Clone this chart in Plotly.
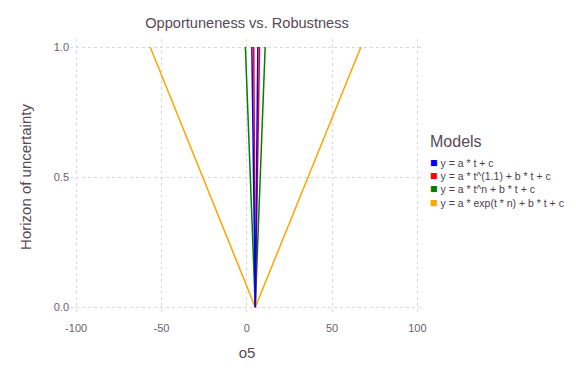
import plotly.graph_objects as go

# Data
models = ["y = a * t + c", "y = a * t^(1.1) + b * t + c",
          "y = a * t^n + b * t + c", "y = a * exp(t * n) + b * t + c"]
colors = ["#0000FF", "#FF0000", "#008000", "#FFA500"]
horizon = [1.0, 0.0, 1.0]
# x positions: robustness end (h=1), nominal (h=0), opportuneness end (h=1)
x_blue = [3.0, 5.0, 6.5]
x_red = [4.1, 5.0, 7.5]
x_green = [-0.8, 5.0, 10.8]
x_orange = [-56.6, 5.0, 66.9]
series = [x_blue, x_red, x_green, x_orange]

x_ticks = [-100, -50, 0, 50, 100]
x_ticklabels = ["-100", "-50", "0", "50", "100"]
y_ticks = [0.0, 0.5, 1.0]
y_ticklabels = ["0.0", "0.5", "1.0"]

font = "Liberation Sans, Arial, sans-serif"
L, R, T, B = 70, 152, 39, 69
W, H = 576, 384
pw = W - L - R

fig = go.Figure()

# lines (drawn back to front)
for i in [3, 2, 1, 0]:
    fig.add_trace(go.Scatter(x=series[i], y=horizon, mode="lines", name=models[i],
                             line=dict(color=colors[i], width=1.5),
                             showlegend=False, hoverinfo="skip"))

grid = dict(showgrid=True, gridcolor="#D8D8E4", griddash="dot", gridwidth=1,
            zeroline=False, showline=False, ticks="", automargin=False,
            tickfont=dict(family=font, size=11, color="#6C606B"))

# Legend built as text annotations (Gadfly-style compact legend)
legend_x = (428 - L) / pw
fig.add_annotation(xref="paper", yref="paper", x=legend_x, y=(H - B - 141) / (H - T - B),
                   text="Models", showarrow=False, xanchor="left", yanchor="middle",
                   font=dict(family=font, size=16, color="#564A55"))
row_px = [163, 176, 189, 203]
for i in range(4):
    fig.add_annotation(xref="paper", yref="paper", x=legend_x,
                       y=(H - B - row_px[i]) / (H - T - B),
                       text=f"<span style='color:{colors[i]}; font-size:12.5px'>■</span> {models[i]}",
                       showarrow=False, xanchor="left", yanchor="middle",
                       font=dict(family=font, size=10.5, color="#4C404B"))

fig.update_layout(
    width=W, height=H,
    margin=dict(l=L, r=R, t=T, b=B),
    plot_bgcolor="white", paper_bgcolor="white",
    showlegend=False,
    title=dict(text="Opportuneness vs. Robustness", x=(L + pw / 2) / W,
               xanchor="center", xref="container", yref="container",
               y=1 - 23 / H, yanchor="middle",
               font=dict(family=font, size=14.6, color="#564A55")),
    xaxis=dict(range=[-103.6, 103.9], tickvals=x_ticks, ticktext=x_ticklabels,
               ticklabelstandoff=5,
               title=dict(text="o5", font=dict(family=font, size=15, color="#564A55"), standoff=14),
               **grid),
    yaxis=dict(range=[-0.03, 1.031], tickvals=y_ticks, ticktext=y_ticklabels,
               title=dict(text="Horizon of uncertainty", font=dict(family=font, size=15, color="#564A55"), standoff=18),
               **grid),
)

fig.write_html("out.html", config={"displayModeBar": False},
               post_script="document.body.style.margin='0';")
